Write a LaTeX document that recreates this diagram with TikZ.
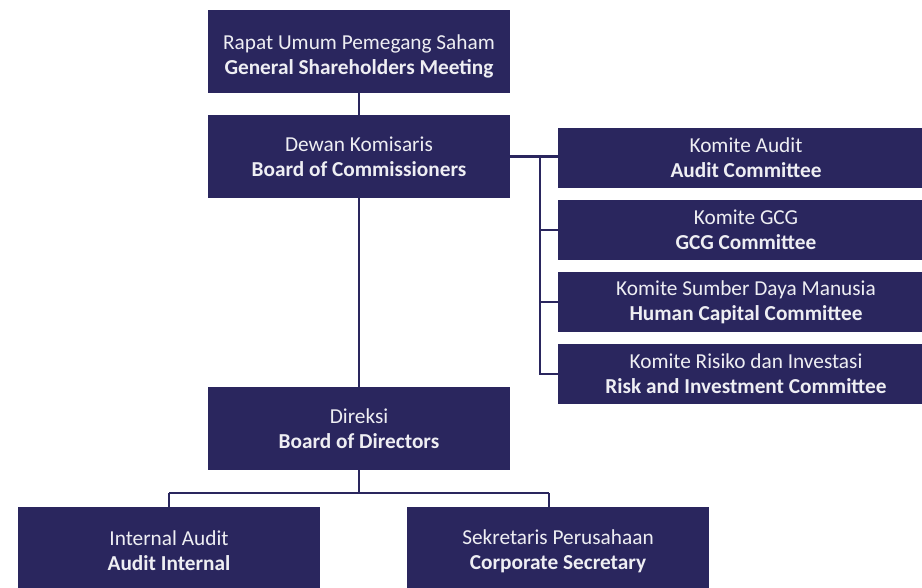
\documentclass[tikz,border=0pt]{standalone}
\usepackage{fontspec}
\setmainfont{Carlito}
\definecolor{navy}{HTML}{2A265E}
\definecolor{boxtext}{HTML}{EEEEF3}
\begin{document}
\begin{tikzpicture}[x=1pt,y=-1pt,
  box/.style={fill=navy, draw=none, text=boxtext, align=center,
    font=\fontsize{21.3}{25}\selectfont, inner sep=0pt},
  txt/.style={box, fill=none},
  big/.style={box, minimum width=302pt, minimum height=83pt},
  comm/.style={box, minimum width=376pt, minimum height=60pt},
  low/.style={box, minimum width=302pt, minimum height=88pt},
  ln/.style={draw=navy, line width=2.2pt}]
\useasboundingbox (0,0) rectangle (922,588);

\node[big] (rups) at (359,51.5) {};
\node[txt] (rupsT) at (359,56) {Rapat Umum Pemegang Saham\\\textbf{General Shareholders Meeting}};
\node[big] (dewan) at (359,156.5) {Dewan Komisaris\\\textbf{Board of Commissioners}};
\node[big] (direksi) at (359,428.5) {Direksi\\\textbf{Board of Directors}};

\node[comm] (ka) at (746,158) {Komite Audit\\\textbf{Audit Committee}};
\node[comm] (gcg) at (746,230) {Komite GCG\\\textbf{GCG Committee}};
\node[comm] (hc) at (746,302) {Komite Sumber Daya Manusia\\\textbf{Human Capital Committee}};
\node[comm] (risk) at (746,374) {Komite Risiko dan Investasi\\\textbf{Risk and Investment Committee}};

\node[low] (ia) at (169,551) {Internal Audit\\\textbf{Audit Internal}};
\node[low] (cs) at (558,551) {Sekretaris Perusahaan\\\textbf{Corporate Secretary}};

\draw[ln] (rups.south) -- (dewan.north);
\draw[ln] (dewan.south) -- (direksi.north);

\coordinate (bx) at (540,157);
\draw[ln] (dewan.east) -- (dewan.east -| ka.west);
\draw[ln] (bx) |- (gcg.west);
\draw[ln] (bx) |- (hc.west);
\draw[ln] (bx) |- (risk.west);

\coordinate (bj) at (359,493);
\coordinate (bjl) at (169,493);
\coordinate (bjr) at (549,493);
\draw[ln] (direksi.south) -- (bj);
\draw[ln] (bjl) -- (bjr);
\draw[ln] (bjl) -- (bjl |- ia.north);
\draw[ln] (bjr) -- (bjr |- cs.north);
\end{tikzpicture}
\end{document}
